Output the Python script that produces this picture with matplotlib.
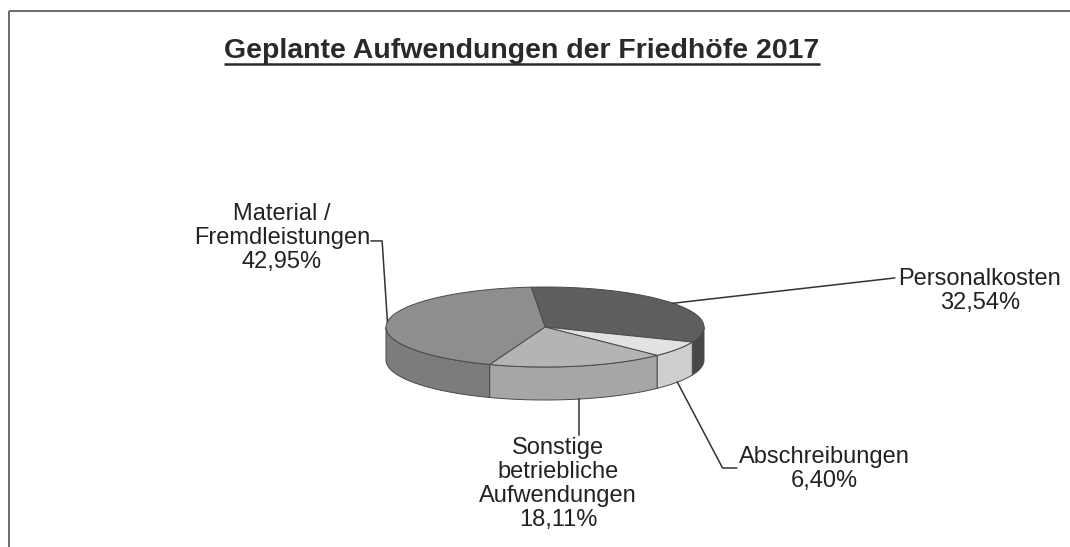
import numpy as np
import matplotlib
matplotlib.use("Agg")
import matplotlib.pyplot as plt
from matplotlib.patches import Polygon

# ---- data ----
categories = ["Personalkosten", "Abschreibungen",
              "Sonstige betriebliche Aufwendungen", "Material / Fremdleistungen"]
label_names = ["Personalkosten", "Abschreibungen",
               "Sonstige\nbetriebliche\nAufwendungen", "Material /\nFremdleistungen"]
values = [32.54, 6.40, 18.11, 42.95]
title = "Geplante Aufwendungen der Friedhöfe 2017"

# ---- style ----
top_colors = ["#5e5e5e", "#e2e2e2", "#b4b4b4", "#8e8e8e"]
side_colors = ["#474747", "#cfcfcf", "#a6a6a6", "#7c7c7c"]
label_pos = [(980, 291), (824, 469), (558, 484), (282, 238)]
text_color = "#222222"
font = "Liberation Sans"

W, H = 1070, 547
fig = plt.figure(figsize=(W / 100, H / 100), dpi=100)
ax = fig.add_axes([0, 0, 1, 1])
ax.set_xlim(0, W)
ax.set_ylim(H, 0)
ax.axis("off")

# frame
ax.plot([9, W], [11, 11], color="#6a6a6a", lw=1.4, solid_capstyle="butt")
ax.plot([9, 9], [11, H], color="#6a6a6a", lw=1.4, solid_capstyle="butt")

# pie geometry
cx, cy, rx, ry, depth = 545, 327, 159, 40, 33
start = 95.0


def rim(theta_deg, dy=0.0):
    t = np.radians(theta_deg)
    return cx + rx * np.cos(t), cy - ry * np.sin(t) + dy


total = sum(values)
angles = []
a = start
for v in values:
    sweep = 360.0 * v / total
    angles.append((a, a - sweep))
    a -= sweep

# side faces (front half only)
for (a1, a2), col in zip(angles, side_colors):
    th = np.linspace(a1, a2, 400)
    vis = np.sin(np.radians(th)) <= 1e-9
    if vis.sum() < 2:
        continue
    thv = th[vis]
    xt, yt = rim(thv)
    xb, yb = rim(thv, depth)
    pts = np.column_stack([np.concatenate([xt, xb[::-1]]),
                           np.concatenate([yt, yb[::-1]])])
    ax.add_patch(Polygon(pts, closed=True, facecolor=col,
                         edgecolor="#4a4a4a", lw=0.7, zorder=2))

# top faces
for (a1, a2), col in zip(angles, top_colors):
    th = np.linspace(a1, a2, 200)
    xs, ys = rim(th)
    pts = np.column_stack([np.concatenate([[cx], xs]),
                           np.concatenate([[cy], ys])])
    ax.add_patch(Polygon(pts, closed=True, facecolor=col,
                         edgecolor="#4a4a4a", lw=0.7, zorder=3))

# labels + leader lines
for (a1, a2), name, v, (lx, ly) in zip(angles, label_names, values, label_pos):
    mid = (a1 + a2) / 2.0
    front = np.sin(np.radians(mid)) < 0
    ax_, ay_ = rim(mid, depth if front else 0)
    txt = name + "\n" + f"{v:.2f}".replace(".", ",") + "%"
    t = ax.text(lx, ly, txt, ha="center", va="center", multialignment="center",
                fontsize=17, family=font, color=text_color, linespacing=1.12,
                zorder=5)

fig.canvas.draw()
renderer = fig.canvas.get_renderer()
inv = ax.transData.inverted()
texts = ax.texts


def bbox_data(t):
    bb = t.get_window_extent(renderer)
    (x0, y0), (x1, y1) = inv.transform([[bb.x0, bb.y0], [bb.x1, bb.y1]])
    return x0, x1, min(y0, y1), max(y0, y1)


line_kw = dict(color="#333333", lw=1.1, zorder=4)
for (a1, a2), t in zip(angles, texts):
    mid = (a1 + a2) / 2.0
    front = np.sin(np.radians(mid)) < 0
    px, py = rim(mid, depth if front else 0)
    x0, x1, ytop, ybot = bbox_data(t)
    name = t.get_text().split("\n")[0]
    if name.startswith("Personal"):
        ax.plot([px, x0 - 4], [py, ytop + 10], **line_kw)
    elif name.startswith("Abschreib"):
        ax.plot([px, x0 - 16, x0 - 2], [py, ytop + 22, ytop + 22], **line_kw)
    elif name.startswith("Sonstige"):
        ax.plot([px, px], [py, ytop - 2], **line_kw)
    else:
        ax.plot([x1 + 1, x1 + 12, px], [ytop + 38, ytop + 38, py], **line_kw)

tt = ax.text(522, 51, title, ha="center", va="center", fontsize=20.5,
             family=font, fontweight="bold", color="#2a2a2a", zorder=5)
fig.canvas.draw()
x0, x1, _, _ = bbox_data(tt)
ax.plot([x0, x1], [64, 64], color="#2a2a2a", lw=1.8, solid_capstyle="butt")

fig.savefig("out.png", dpi=100)
